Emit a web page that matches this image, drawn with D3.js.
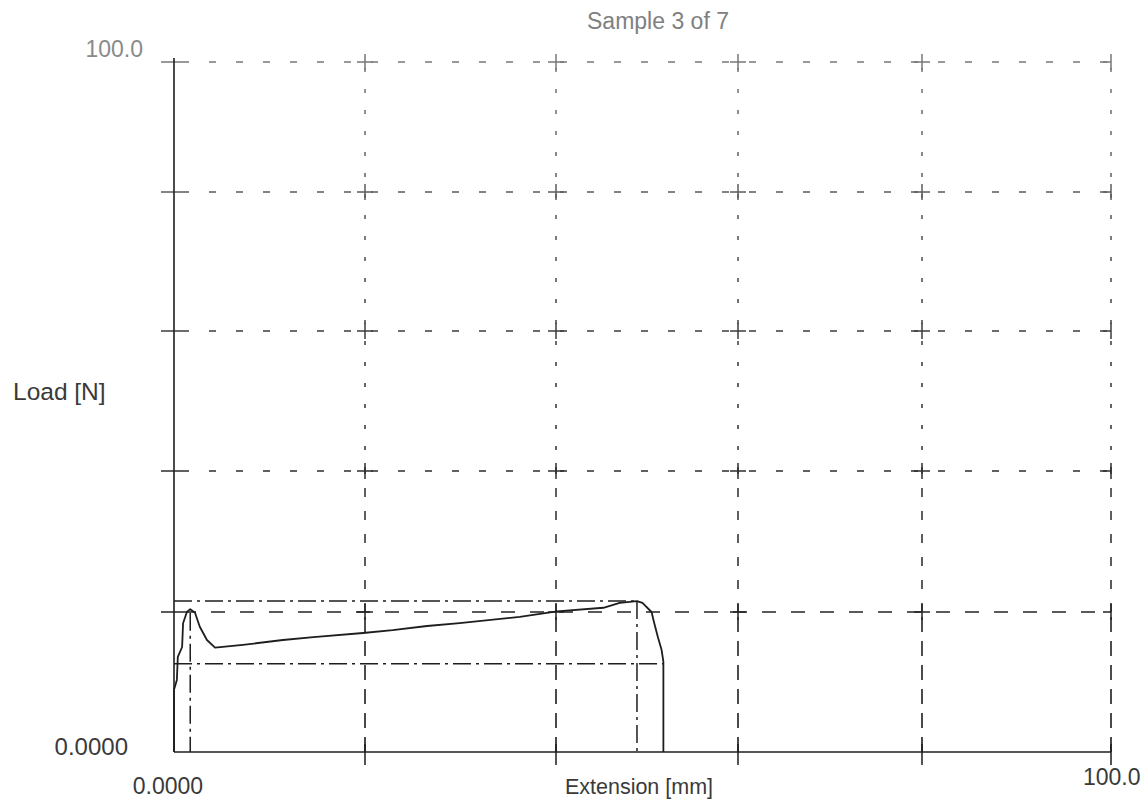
<!DOCTYPE html>
<html>
<head>
<meta charset="utf-8">
<script src="https://cdn.jsdelivr.net/npm/d3@7"></script>
<style>
  html, body { margin: 0; padding: 0; background: #fff; }
  svg { display: block; }
  text { font-family: "Liberation Sans", Arial, sans-serif; }
</style>
</head>
<body>
<svg id="chart" width="1142" height="800"></svg>
<script>
// ---- data ----
const title = "Sample 3 of 7";
const xLabel = "Extension [mm]";
const yLabel = "Load [N]";
const gridX = [0, 20, 40, 60, 80, 100];
const gridY = [0, 20, 40, 60, 80, 100];
const xTickLabels = ["0.0000", "100.0"];
const yTickLabels = ["0.0000", "100.0"];
const extension = [0, 0, 0.3, 0.4, 0.85, 0.95, 1.35, 1.7, 2.2, 2.7, 3.45, 4.3, 7.2, 11.4, 14.6, 19.8, 22.9, 26.5, 29.9, 36.2, 40.1, 45.2, 47.0, 48.9, 49.5, 50.5, 50.8, 51.2, 51.6, 51.8, 51.8];
const load      = [0, 8.9, 10.3, 13.6, 15.0, 18.4, 20.0, 20.4, 19.9, 17.9, 16.0, 14.9, 15.3, 16.0, 16.4, 17.0, 17.4, 18.0, 18.4, 19.3, 20.1, 20.6, 21.3, 21.55, 21.3, 20.0, 18.4, 16.4, 14.6, 12.9, 0];
const peakExt = 1.7, peakLoad = 20.4;
const maxExt = 48.9, maxLoad = 21.55;
const breakExt = 51.8, breakLoad = 12.6;

// ---- layout ----
const svg = d3.select("#chart");
const x = d3.scaleLinear().domain(gridX).range([174, 365, 556, 738, 922, 1111]);
const y = d3.scaleLinear().domain(gridY).range([752, 612, 471, 331, 192, 62]);
const ink = "#1e1e1e";

// faded scan effect: darker at bottom, lighter at top
const defs = svg.append("defs");
const grad = defs.append("linearGradient").attr("id", "fade")
  .attr("gradientUnits", "userSpaceOnUse")
  .attr("x1", 0).attr("y1", y(0)).attr("x2", 0).attr("y2", y(100));
grad.append("stop").attr("offset", "0").attr("stop-color", "#1a1a1a");
grad.append("stop").attr("offset", "0.55").attr("stop-color", "#333");
grad.append("stop").attr("offset", "1").attr("stop-color", "#777");

const g = svg.append("g");

// horizontal grid lines
g.selectAll("line.hgrid").data(gridY.slice(1)).join("line")
  .attr("class", "hgrid")
  .attr("x1", x(0) + 8).attr("x2", x(100))
  .attr("y1", d => y(d)).attr("y2", d => y(d))
  .attr("stroke", "url(#fade)")
  .attr("stroke-width", d => d === 20 ? 1.6 : 1.4)
  .attr("stroke-dasharray", d => d === 20 ? "14,15" : "7,20");

// vertical grid lines: dashes get shorter towards the faded top
const vSegs = [[0, 20, "15,9", 1.6], [20, 40, "9,14", 1.5], [40, 100, "4,17", 1.5]];
vSegs.forEach(([lo, hi, dash, w]) => {
  g.append("g").selectAll("line").data(gridX.slice(1)).join("line")
    .attr("x1", d => x(d)).attr("x2", d => x(d))
    .attr("y1", y(lo)).attr("y2", y(hi))
    .attr("stroke", "url(#fade)").attr("stroke-width", w)
    .attr("stroke-dasharray", dash);
});

// crosses at grid intersections
const cross = [];
gridX.forEach(a => gridY.forEach(b => cross.push([a, b])));
const cg = g.append("g").attr("stroke", "url(#fade)").attr("stroke-width", 1.5);
cross.forEach(([a, b]) => {
  const cx = x(a), cy = y(b);
  if (b !== 0) {
    cg.append("line").attr("x1", cx - (a === 0 ? 13 : 8)).attr("x2", a === 100 ? cx : cx + 8)
      .attr("y1", cy).attr("y2", cy);
  }
  if (a !== 0) {
    cg.append("line").attr("x1", cx).attr("x2", cx)
      .attr("y1", cy - 8).attr("y2", cy + (b === 0 ? 13 : 8));
  }
});

// axes (solid)
g.append("line").attr("x1", x(0)).attr("x2", x(0)).attr("y1", y(0)).attr("y2", y(100) - 4)
  .attr("stroke", ink).attr("stroke-width", 1.6);
g.append("line").attr("x1", x(0)).attr("x2", x(100)).attr("y1", y(0)).attr("y2", y(0))
  .attr("stroke", ink).attr("stroke-width", 1.6);

// dash-dot reference lines
const dd = "18,5,3,5";
const refs = [
  [0, maxLoad, maxExt, maxLoad],
  [0, breakLoad, breakExt, breakLoad],
  [peakExt, peakLoad - 0.5, peakExt, 0],
  [maxExt, maxLoad, maxExt, 0]
];
g.selectAll("line.ref").data(refs).join("line")
  .attr("x1", d => x(d[0])).attr("y1", d => y(d[1]))
  .attr("x2", d => x(d[2])).attr("y2", d => y(d[3]))
  .attr("stroke", ink).attr("stroke-width", 1.5)
  .attr("stroke-dasharray", dd);

// load-extension curve
const pts = extension.map((e, i) => [e, load[i]]);
g.append("path").datum(pts)
  .attr("d", d3.line().x(d => x(d[0])).y(d => y(d[1])))
  .attr("fill", "none").attr("stroke", ink).attr("stroke-width", 1.8)
  .attr("stroke-linejoin", "round");

// texts
svg.append("text").attr("x", 658).attr("y", 29).attr("text-anchor", "middle")
  .attr("font-size", 23).attr("fill", "#808080").text(title);
svg.append("text").attr("x", 143).attr("y", 57).attr("text-anchor", "end")
  .attr("font-size", 23).attr("fill", "#8a8a8a").text(yTickLabels[1]);
svg.append("text").attr("x", 128).attr("y", 755).attr("text-anchor", "end")
  .attr("font-size", 24).attr("fill", "#3a3a3a").text(yTickLabels[0]);
svg.append("text").attr("x", 168).attr("y", 794).attr("text-anchor", "middle")
  .attr("font-size", 23).attr("fill", "#3a3a3a").text(xTickLabels[0]);
svg.append("text").attr("x", 1083).attr("y", 785).attr("text-anchor", "start")
  .attr("font-size", 23).attr("fill", "#3a3a3a").text(xTickLabels[1]);
svg.append("text").attr("x", 639).attr("y", 794).attr("text-anchor", "middle")
  .attr("font-size", 21.5).attr("fill", "#3a3a3a").text(xLabel);
svg.append("text").attr("x", 13).attr("y", 400).attr("text-anchor", "start")
  .attr("font-size", 24.5).attr("fill", "#3a3a3a").text(yLabel);
</script>
</body>
</html>
